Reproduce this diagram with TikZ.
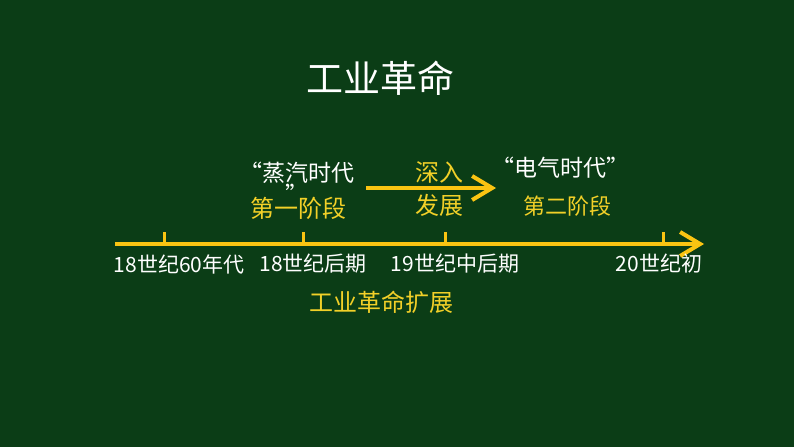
\documentclass[tikz,border=0pt]{standalone}
\usepackage{fontspec}
\setmainfont{Noto Sans CJK SC}
\usetikzlibrary{arrows.meta,positioning}
\definecolor{board}{RGB}{11,61,22}
\definecolor{gold}{RGB}{250,196,18}
\definecolor{goldtext}{RGB}{242,208,40}

\begin{document}
\begin{tikzpicture}[x=1pt, y=-1pt, inner sep=0pt,
    title/.style = {text=white, font=\fontsize{37}{40}\selectfont},
    era/.style = {text=white, font=\fontsize{23}{17}\selectfont, align=center},
    stage/.style = {text=goldtext, font=\fontsize{24}{28}\selectfont, align=center},
    date/.style = {text=white, font=\fontsize{21}{24}\selectfont},
    axis/.style = {draw=gold, line width=4.5pt, -{Straight Barb[length=20pt, width=24pt, line width=4pt]}},
    tick/.style = {draw=gold, line width=3pt}]
    \fill[board] (0,0) rectangle (794,447);

    \node[title] (title) at (380,78) {工业革命};

    % timeline
    \coordinate (start) at (115,244);
    \coordinate (stop) at (704,244);
    \draw[axis] (start) -- (stop);
    \coordinate (t1) at (164,244);
    \coordinate (t2) at (303,244);
    \coordinate (t3) at (445,244);
    \coordinate (t4) at (663,244);
    \foreach \t in {t1,t2,t3,t4}
        \draw[tick] (\t) -- ++(0,-12);

    \node[date] (d1) at (179,264) {18世纪60年代};
    \node[date] (d2) at (313,264) {18世纪后期};
    \node[date] (d3) at (455,264) {19世纪中后期};
    \node[date] (d4) at (659,264) {20世纪初};

    \node[stage] (first) at (298,208) {第一阶段};
    \node[era] (steam) at (297,183) {“蒸汽时代\\”};
    \node[stage, font=\fontsize{24}{33}\selectfont] (deep) at (439,189) {深入\\发展};
    \node[era] (elec) at (560,168) {“电气时代”};
    \node[stage, font=\fontsize{22}{26}\selectfont] (second) at (567,206) {第二阶段};

    \coordinate (a) at (366,188);
    \coordinate (b) at (496,188);
    \draw[axis, line width=4pt] (a) -- (b);

    \node[stage] (spread) at (381,302) {工业革命扩展};
\end{tikzpicture}
\end{document}
